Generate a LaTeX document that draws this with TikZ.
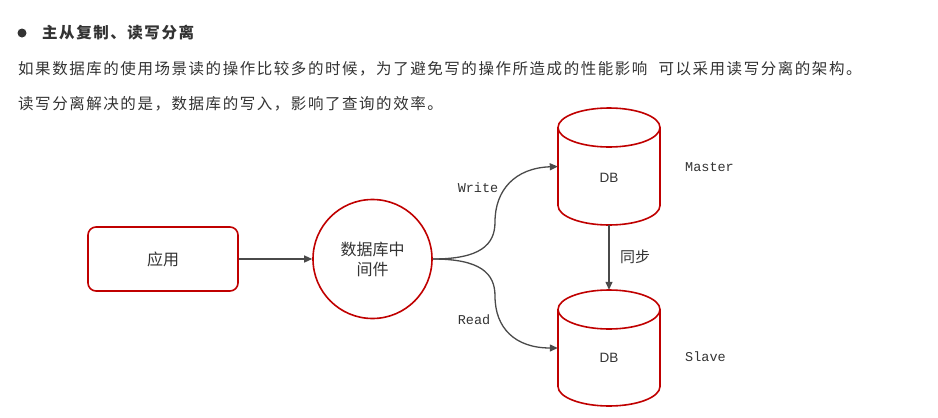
\documentclass[tikz,border=0pt]{standalone}
\usepackage{fontspec}
\usetikzlibrary{arrows.meta}
\newfontfamily\cjkbody[LetterSpace=10]{Noto Sans CJK SC}
\newfontfamily\cjk{Noto Sans CJK SC}
\newfontfamily\monof{Liberation Mono}
\newfontfamily\sansf{Liberation Sans}
\definecolor{dbred}{HTML}{C00000}
\definecolor{txt}{HTML}{333333}
\definecolor{edge}{HTML}{4A4A4A}
\tikzset{
  bodytext/.style={anchor=west, inner sep=0pt, text=txt, font=\cjkbody\fontsize{15.5}{18}\selectfont},
  redline/.style={draw=dbred, line width=1.6pt},
  conn/.style={draw=edge, line width=1.3pt, -{Triangle[length=8pt,width=7pt]}},
  lbl/.style={inner sep=0pt, text=txt, font=\monof\fontsize{13.5}{16}\selectfont},
  zh/.style={text=txt, font=\cjk\fontsize{16}{20}\selectfont, align=center},
}
\begin{document}
\begin{tikzpicture}[x=1pt, y=-1pt]
\useasboundingbox (0,0) rectangle (938,418);
% header texts
\fill[txt] (22,33) circle (4.5);
\node[bodytext, font=\cjkbody\bfseries\fontsize{15.5}{18}\selectfont] (head) at (42,33) {主从复制、读写分离};
\node[bodytext] (line1) at (18,69) {如果数据库的使用场景读的操作比较多的时候，为了避免写的操作所造成的性能影响\hspace{6pt} 可以采用读写分离的架构。};
\node[bodytext] (line2) at (18,104) {读写分离解决的是，数据库的写入，影响了查询的效率。};
% app
\node[redline, rounded corners=8pt, minimum width=150pt, minimum height=64pt, zh] (app) at (163,259) {应用};
% middleware
\node[redline, circle, minimum size=119pt, inner sep=0pt, zh] (mid) at (372.5,259) {数据库中\\间件};
% cylinders
\node[minimum width=102pt, minimum height=117pt, inner sep=0pt] (master) at (609,166.5) {};
\node[minimum width=102pt, minimum height=116pt, inner sep=0pt] (slave) at (609,348) {};
\draw[redline] (609,127.5) ellipse [x radius=51, y radius=19.5];
\draw[redline] (558,127.5) -- (558,205.5) arc[start angle=180, end angle=0, x radius=51, y radius=19.5] -- (660,127.5);
\draw[redline] (609,309.5) ellipse [x radius=51, y radius=19.5];
\draw[redline] (558,309.5) -- (558,386.5) arc[start angle=180, end angle=0, x radius=51, y radius=19.5] -- (660,309.5);
\node[text=txt, font=\sansf\fontsize{13.5}{16}\selectfont] (db1) at (609,178) {DB};
\node[text=txt, font=\sansf\fontsize{13.5}{16}\selectfont] (db2) at (609,358) {DB};
% connectors
\draw[conn] (app.east) -- (mid.west);
\draw[conn] (mid.east) .. controls (480,259) and (495,245) .. (495,222) .. controls (495,190) and (515,168) .. (master.west);
\draw[conn] (mid.east) .. controls (480,259) and (495,273) .. (495,296) .. controls (495,328) and (515,348) .. (slave.west);
\draw[conn] (master.south) -- (slave.north);
% labels
\node[lbl] (wlbl) at (478,188) {Write};
\node[lbl] (rlbl) at (474,320) {Read};
\node[lbl, anchor=west] (mlbl) at (685,167) {Master};
\node[lbl, anchor=west] (slbl) at (685,357) {Slave};
\node[zh, anchor=west, inner sep=0pt, font=\cjk\fontsize{15}{18}\selectfont] (sync) at (620,257) {同步};
\end{tikzpicture}
\end{document}
